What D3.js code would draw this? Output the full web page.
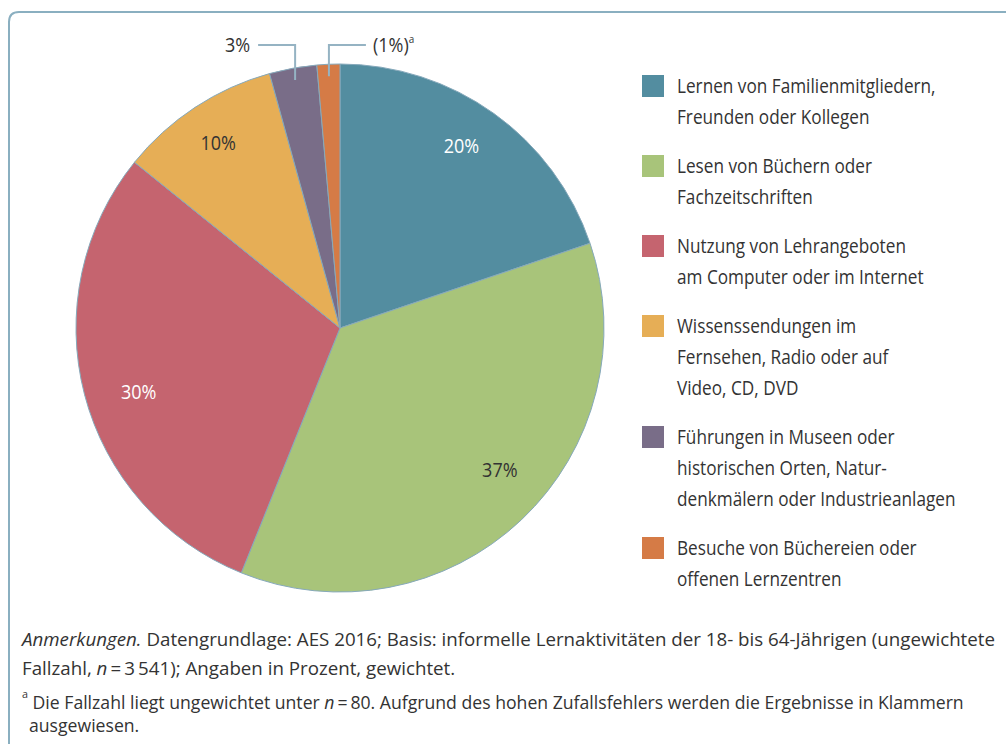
<!DOCTYPE html>
<html>
<head>
<meta charset="utf-8">
<style>
  body { margin: 0; background: #fff; }
  svg { display: block; font-family: "Open Sans", sans-serif; }
  .slice { stroke: #86a9bb; stroke-width: 1; }
  .leader { fill: none; stroke: #95b3c3; stroke-width: 2; }
</style>
</head>
<body>
<svg class="chart"></svg>
<script src="https://d3js.org/d3.v7.min.js"></script>
<script>
// data
var categories = [
  ["Lernen von Familienmitgliedern,", "Freunden oder Kollegen"],
  ["Lesen von Büchern oder", "Fachzeitschriften"],
  ["Nutzung von Lehrangeboten", "am Computer oder im Internet"],
  ["Wissenssendungen im", "Fernsehen, Radio oder auf", "Video, CD, DVD"],
  ["Führungen in Museen oder", "historischen Orten, Natur-", "denkmälern oder Industrieanlagen"],
  ["Besuche von Büchereien oder", "offenen Lernzentren"]
];
var shares = [19.8, 36.3, 29.7, 9.9, 2.9, 1.4];
var shareLabels = ["20%", "37%", "30%", "10%", "3%", "(1%)"];
var colors = ["#538da0", "#a8c47a", "#c5646f", "#e6ae56", "#796d88", "#d57b46"];
var noteLines = [
  "Datengrundlage: AES 2016; Basis: informelle Lernaktivitäten der 18- bis 64-Jährigen (ungewichtete",
  "); Angaben in Prozent, gewichtet."
];

var width = 1006, height = 744;
var cx = 340, cy = 328, radius = 264;

var svg = d3.select(".chart").attr("width", width).attr("height", height);

// frame: only the top-left corner is visible
svg.append("path")
  .attr("d", "M9,744 L9,22 Q9,12 19,12 L1006,12")
  .attr("fill", "none")
  .attr("stroke", "#8aafc0")
  .attr("stroke-width", 2);

var pie = d3.pie().sort(null).value(d => d);
var arcs = pie(shares);
var arc = d3.arc().innerRadius(0).outerRadius(radius);

var g = svg.append("g").attr("transform", "translate(" + cx + "," + cy + ")");

g.selectAll(".slice")
  .data(arcs)
  .join("path")
  .attr("class", "slice")
  .attr("fill", (d, i) => colors[i])
  .attr("d", arc);

function condensed(sel, k) {
  var x = +sel.attr("x");
  return sel.attr("transform", "translate(" + x + ",0) scale(" + k + ",1) translate(" + (-x) + ",0)");
}

// labels inside the slices (r = share of radius, da = angle nudge in degrees)
var inner = [
  { i: 0, r: 0.83, da: -2, fill: "#fff" },
  { i: 1, r: 0.81, da: -5, fill: "#333" },
  { i: 2, r: 0.80, da: -3, fill: "#fff" },
  { i: 3, r: 0.84, da: 0, fill: "#333" }
];
inner.forEach(function (o) {
  var d = arcs[o.i];
  var a = (d.startAngle + d.endAngle) / 2 + o.da * Math.PI / 180;
  var px = Math.sin(a) * radius * o.r, py = -Math.cos(a) * radius * o.r;
  g.append("text")
    .attr("x", px).attr("y", py)
    .attr("dy", "0.35em")
    .attr("text-anchor", "middle")
    .attr("font-size", 20)
    .attr("fill", o.fill)
    .call(condensed, 0.9)
    .text(shareLabels[o.i]);
});

// leader labels for the two thin slices
function midAngle(d) { return (d.startAngle + d.endAngle) / 2; }
var labelY = 45 - cy;
[4, 5].forEach(function (i) {
  var a = midAngle(arcs[i]);
  var ex = Math.sin(a) * (radius - 12), ey = -Math.cos(a) * (radius - 12);
  var left = i === 4;
  var hx = left ? ex - 37 : ex + 37;
  g.append("path")
    .attr("class", "leader")
    .attr("d", "M" + ex + "," + ey + " L" + ex + "," + labelY + " L" + hx + "," + labelY);
  var t = g.append("text")
    .attr("x", left ? hx - 8 : hx + 7)
    .attr("y", labelY)
    .attr("dy", "0.35em")
    .attr("text-anchor", left ? "end" : "start")
    .attr("font-size", 20)
    .attr("fill", "#333")
    .call(condensed, 0.9)
    .text(shareLabels[i]);
  if (!left) {
    t.append("tspan").attr("font-size", 11).attr("dy", "-0.8em").text("a");
  }
});

// legend
var legend = svg.append("g").attr("transform", "translate(642,0)");
var lineH = 31, groupGap = 18;
var y = 86;
categories.forEach(function (lines, i) {
  legend.append("rect")
    .attr("x", 0).attr("y", y - 11)
    .attr("width", 22).attr("height", 22)
    .attr("fill", colors[i]);
  lines.forEach(function (s, j) {
    legend.append("text")
      .attr("x", 35)
      .attr("y", y + j * lineH)
      .attr("dy", "0.35em")
      .attr("font-size", 20)
      .attr("fill", "#333")
      .call(condensed, 0.86)
      .text(s);
  });
  y += lines.length * lineH + groupGap;
});

// notes
var eq = "\u2009=\u2009";
var notes = svg.append("g").attr("font-size", 18).attr("fill", "#333");
var t1 = notes.append("text").attr("x", 22).attr("y", 646).call(condensed, 1.04);
t1.append("tspan").attr("font-style", "italic").text("Anmerkungen.");
t1.append("tspan").text(" " + noteLines[0]);

var t2 = notes.append("text").attr("x", 22).attr("y", 675).call(condensed, 1.04);
t2.append("tspan").text("Fallzahl, ");
t2.append("tspan").attr("font-style", "italic").text("n");
t2.append("tspan").text(eq + "3\u2009541");
t2.append("tspan").text(noteLines[1]);

var t3 = notes.append("text").attr("x", 22).attr("y", 705).call(condensed, 0.98);
t3.append("tspan").attr("font-size", 11).attr("dy", "-0.6em").text("a");
t3.append("tspan").attr("dy", "0.6em").text(" Die Fallzahl liegt ungewichtet unter ");
t3.append("tspan").attr("font-style", "italic").text("n");
t3.append("tspan").text(eq + "80. Aufgrund des hohen Zufallsfehlers werden die Ergebnisse in Klammern");

notes.append("text").attr("x", 29).attr("y", 732).call(condensed, 0.98).text("ausgewiesen.");
</script>
</body>
</html>
